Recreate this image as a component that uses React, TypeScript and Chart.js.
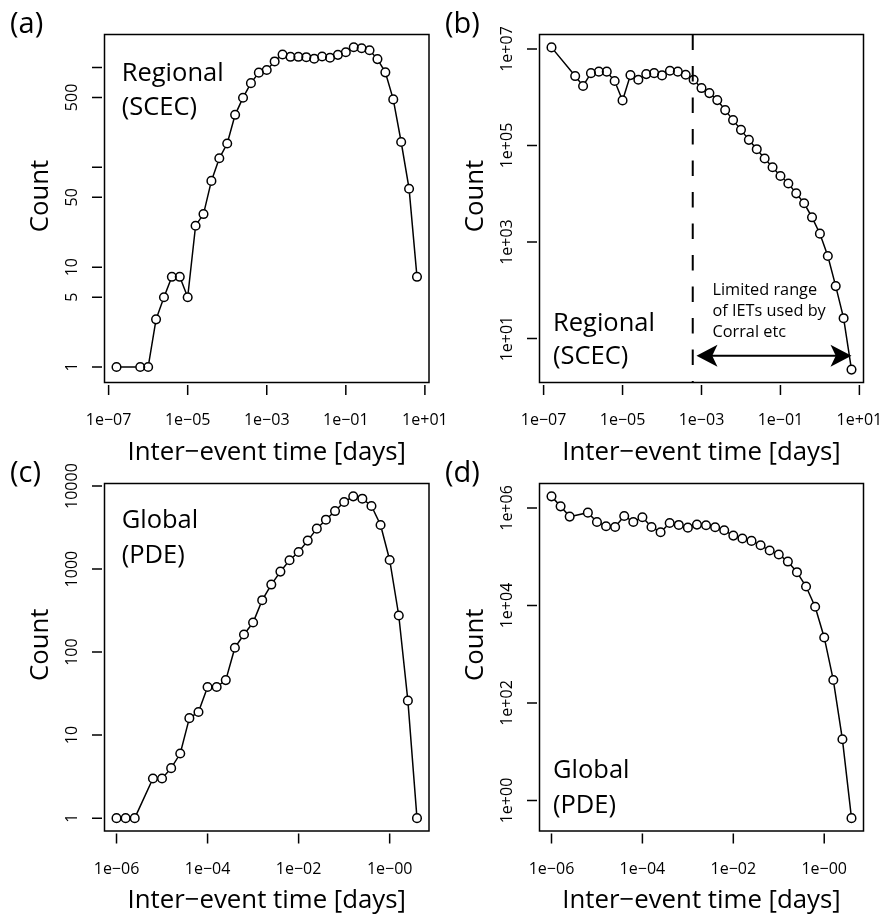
import React, { useEffect, useRef } from 'react';
import { Chart, registerables } from 'chart.js';

Chart.register(...registerables);

const FONT = '"Open Sans", Lato, sans-serif';

// ---------- data ----------
// bin centres of inter-event time [days]
const xRegional = [
  1.585e-7, 6.31e-7,
  1e-6, 1.585e-6, 2.512e-6, 3.981e-6, 6.31e-6,
  1e-5, 1.585e-5, 2.512e-5, 3.981e-5, 6.31e-5,
  1e-4, 1.585e-4, 2.512e-4, 3.981e-4, 6.31e-4,
  1e-3, 1.585e-3, 2.512e-3, 3.981e-3, 6.31e-3,
  1e-2, 1.585e-2, 2.512e-2, 3.981e-2, 6.31e-2,
  0.1, 0.1585, 0.2512, 0.3981, 0.631,
  1, 1.585, 2.512, 3.981, 6.31,
];
const xGlobal = [
  1e-6, 1.585e-6, 2.512e-6, 6.31e-6,
  1e-5, 1.585e-5, 2.512e-5, 3.981e-5, 6.31e-5,
  1e-4, 1.585e-4, 2.512e-4, 3.981e-4, 6.31e-4,
  1e-3, 1.585e-3, 2.512e-3, 3.981e-3, 6.31e-3,
  1e-2, 1.585e-2, 2.512e-2, 3.981e-2, 6.31e-2,
  0.1, 0.1585, 0.2512, 0.3981, 0.631,
  1, 1.585, 2.512, 3.981,
];

// (a) Regional (SCEC) counts
const countA = [
  1, 1, 1, 3, 5, 8, 8, 5, 26, 34,
  73, 123, 173, 335, 497, 695, 886, 942, 1147, 1345,
  1276, 1276, 1265, 1219, 1285, 1247, 1335, 1418, 1589, 1553,
  1485, 1210, 892, 478, 179, 61, 8,
];
// (b) Regional (SCEC) density
const countB = [
  1.08e7, 2.75e6, 1.71e6, 3.16e6, 3.39e6, 3.39e6, 2.17e6, 8.6e5, 2.88e6, 2.31e6,
  3.02e6, 3.16e6, 2.84e6, 3.55e6, 3.39e6, 2.93e6, 2.31e6, 1.55e6, 1.22e6, 8.73e5,
  5.42e5, 3.36e5, 2.11e5, 1.31e5, 8.39e4, 5.37e4, 3.55e4, 2.34e4, 1.63e4, 1.02e4,
  6350, 3250, 1490, 512, 122, 26.4, 2.27,
];
// (c) Global (PDE) counts
const countC = [
  1, 1, 1, 3, 3, 4, 6, 16, 19, 38,
  38, 46, 113, 163, 227, 422, 651, 933, 1277, 1607,
  2203, 3070, 3937, 5000, 6427, 7516, 7047, 5754, 3397, 1288,
  276, 26, 1,
];
// (d) Global (PDE) density
const countD = [
  1.73e6, 1.08e6, 6.65e5, 8.02e5, 5.16e5, 4.22e5, 4.08e5, 6.85e5, 5.16e5, 6.44e5,
  4.08e5, 3.18e5, 4.93e5, 4.49e5, 3.95e5, 4.56e5, 4.42e5, 4.02e5, 3.49e5, 2.71e5,
  2.36e5, 2.11e5, 1.72e5, 1.34e5, 1.11e5, 7.96e4, 4.82e4, 2.45e4, 9400, 2210,
  296, 18, 0.435,
];

// ticks
const xTicksRegional = [1e-7, 1e-5, 1e-3, 1e-1, 1e1];
const xTickLabelsRegional = ['1e\u221207', '1e\u221205', '1e\u221203', '1e\u221201', '1e+01'];
const xTicksGlobal = [1e-6, 1e-4, 1e-2, 1];
const xTickLabelsGlobal = ['1e\u221206', '1e\u221204', '1e\u221202', '1e\u221200'];
const yTicksA = [1, 5, 10, 50, 100, 500, 1000];
const yTickLabelsA = ['1', '5', '10', '50', '', '500', ''];
const yTicksB = [10, 1e3, 1e5, 1e7];
const yTickLabelsB = ['1e+01', '1e+03', '1e+05', '1e+07'];
const yTicksC = [1, 10, 100, 1000, 10000];
const yTickLabelsC = ['1', '10', '100', '1000', '10000'];
const yTicksD = [1, 100, 1e4, 1e6];
const yTickLabelsD = ['1e+00', '1e+02', '1e+04', '1e+06'];

// annotation in (b)
const limitLine = 6e-4;
const arrowFrom = 7.46e-4;
const arrowTo = 6.31;
const arrowLevel = 4.4;
const noteX = 1.9e-3;
const noteLines = ['Limited range', 'of IETs used by', 'Corral etc'];

const xTitle = 'Inter\u2212event time [days]';
const yTitle = 'Count';

type Box = { l: number; t: number; r: number; b: number };
type PanelCfg = {
  xs: number[];
  ys: number[];
  xTicks: number[];
  xLabels: string[];
  yTicks: number[];
  yLabels: string[];
  letter: string;
  inner: string[];
  innerAtTop: boolean;
  innerOffsets: number[];
  box: Box;
  note?: boolean;
};

const W = 884;
const H = 916;

function rRange(vals: number[]) {
  const lv = vals.map((v) => Math.log10(v));
  const lo = Math.min(...lv);
  const hi = Math.max(...lv);
  const pad = 0.04 * (hi - lo);
  return { min: Math.pow(10, lo - pad), max: Math.pow(10, hi + pad) };
}

function makeDecor(p: PanelCfg) {
  return {
    id: 'rdecor',
    afterDraw(chart: any) {
      const ctx: CanvasRenderingContext2D = chart.ctx;
      const a = chart.chartArea;
      const xs = chart.scales.x;
      const ys = chart.scales.y;
      ctx.save();
      ctx.strokeStyle = '#000';
      ctx.fillStyle = '#000';

      // annotation (b)
      if (p.note) {
        const lx = xs.getPixelForValue(limitLine);
        ctx.lineWidth = 2;
        ctx.setLineDash([15.5, 16]);
        ctx.beginPath();
        ctx.moveTo(lx, a.top);
        ctx.lineTo(lx, a.bottom);
        ctx.stroke();
        ctx.setLineDash([]);
        const ay = ys.getPixelForValue(arrowLevel);
        const x0 = xs.getPixelForValue(arrowFrom);
        const x1 = xs.getPixelForValue(arrowTo);
        const hl = 21;
        const hw = 11;
        ctx.lineWidth = 2;
        ctx.beginPath();
        ctx.moveTo(x0 + hl * 0.7, ay);
        ctx.lineTo(x1 - hl * 0.7, ay);
        ctx.stroke();
        const head = (tx: number, dir: number) => {
          ctx.beginPath();
          ctx.moveTo(tx, ay);
          ctx.lineTo(tx + dir * hl, ay - hw);
          ctx.lineTo(tx + dir * hl * 0.75, ay);
          ctx.lineTo(tx + dir * hl, ay + hw);
          ctx.closePath();
          ctx.fill();
        };
        head(x0, 1);
        head(x1, -1);
        ctx.font = `16.3px ${FONT}`;
        ctx.textAlign = 'left';
        ctx.textBaseline = 'alphabetic';
        const nx = xs.getPixelForValue(noteX);
        noteLines.forEach((s, i) => ctx.fillText(s, nx, ay - 61 + i * 21.3));
      }

      // box
      ctx.lineWidth = 1.5;
      ctx.strokeRect(a.left, a.top, a.right - a.left, a.bottom - a.top);

      // tick marks
      ctx.beginPath();
      p.xTicks.forEach((v) => {
        const px = xs.getPixelForValue(v);
        ctx.moveTo(px, a.bottom + 2.5);
        ctx.lineTo(px, a.bottom + 12.5);
      });
      p.yTicks.forEach((v) => {
        const py = ys.getPixelForValue(v);
        ctx.moveTo(a.left - 2.5, py);
        ctx.lineTo(a.left - 12.5, py);
      });
      ctx.stroke();

      // tick labels
      ctx.font = `16px ${FONT}`;
      ctx.textAlign = 'center';
      ctx.textBaseline = 'alphabetic';
      p.xTicks.forEach((v, i) => {
        ctx.fillText(p.xLabels[i], xs.getPixelForValue(v), a.bottom + 42.5);
      });
      p.yTicks.forEach((v, i) => {
        if (!p.yLabels[i]) return;
        ctx.save();
        ctx.translate(a.left - 27.6, ys.getPixelForValue(v));
        ctx.rotate(-Math.PI / 2);
        ctx.fillText(p.yLabels[i], 0, 0);
        ctx.restore();
      });

      // axis titles
      ctx.font = `25.8px ${FONT}`;
      ctx.fillText(xTitle, (a.left + a.right) / 2, a.bottom + 77);
      ctx.save();
      ctx.translate(a.left - 56.3, (a.top + a.bottom) / 2 - 12.5);
      ctx.rotate(-Math.PI / 2);
      ctx.fillText(yTitle, 0, 0);
      ctx.restore();

      // panel letter
      ctx.font = `29px ${FONT}`;
      ctx.textAlign = 'left';
      ctx.fillText(p.letter, a.left - 94.5, a.top - 1.5);

      // inner label
      ctx.font = `25.5px ${FONT}`;
      p.inner.forEach((s, i) => {
        const y = p.innerAtTop ? a.top + p.innerOffsets[i] : a.bottom - p.innerOffsets[i];
        ctx.fillText(s, a.left + (p.innerAtTop ? 17.2 : 13.5), y);
      });
      ctx.restore();
    },
  };
}

function Panel({ cfg }: { cfg: PanelCfg }) {
  const ref = useRef<HTMLCanvasElement | null>(null);
  useEffect(() => {
    if (!ref.current) return;
    const pts = cfg.xs.map((x, i) => ({ x, y: cfg.ys[i] }));
    const xr = rRange(cfg.xs);
    const yr = rRange(cfg.ys);
    const chart = new Chart(ref.current, {
      type: 'line',
      data: {
        datasets: [
          {
            data: pts,
            showLine: false,
            pointRadius: 4.3,
            pointBorderWidth: 1.5,
            pointBorderColor: '#000',
            pointBackgroundColor: 'rgba(0,0,0,0)',
            pointHoverRadius: 4.3,
          },
          {
            data: pts,
            borderColor: '#000',
            borderWidth: 1.5,
            tension: 0,
            pointRadius: 4.5,
            pointBorderWidth: 0,
            pointBorderColor: '#fff',
            pointBackgroundColor: '#fff',
          },
        ],
      },
      options: {
        animation: false,
        responsive: false,
        devicePixelRatio: 1,
        events: [],
        layout: {
          padding: { left: cfg.box.l, top: cfg.box.t, right: W - cfg.box.r, bottom: H - cfg.box.b },
        },
        scales: {
          x: { type: 'logarithmic', display: false, min: xr.min, max: xr.max },
          y: { type: 'logarithmic', display: false, min: yr.min, max: yr.max },
        },
        plugins: { legend: { display: false }, tooltip: { enabled: false } },
      } as any,
      plugins: [makeDecor(cfg)],
    });
    return () => chart.destroy();
  }, [cfg]);
  return (
    <canvas
      ref={ref}
      width={W}
      height={H}
      style={{ position: 'absolute', left: 0, top: 0, width: W, height: H }}
    />
  );
}

const panels: PanelCfg[] = [
  {
    xs: xRegional, ys: countA, xTicks: xTicksRegional, xLabels: xTickLabelsRegional,
    yTicks: yTicksA, yLabels: yTickLabelsA, letter: '(a)', inner: ['Regional', '(SCEC)'],
    innerAtTop: true, innerOffsets: [46.5, 80], box: { l: 104.5, t: 34.5, r: 429, b: 382.5 },
  },
  {
    xs: xRegional, ys: countB, xTicks: xTicksRegional, xLabels: xTickLabelsRegional,
    yTicks: yTicksB, yLabels: yTickLabelsB, letter: '(b)', inner: ['Regional', '(SCEC)'],
    innerAtTop: false, innerOffsets: [51.5, 18.5], box: { l: 539.5, t: 34.5, r: 863.5, b: 382.5 }, note: true,
  },
  {
    xs: xGlobal, ys: countC, xTicks: xTicksGlobal, xLabels: xTickLabelsGlobal,
    yTicks: yTicksC, yLabels: yTickLabelsC, letter: '(c)', inner: ['Global', '(PDE)'],
    innerAtTop: true, innerOffsets: [44, 79], box: { l: 104.5, t: 483.5, r: 429, b: 831 },
  },
  {
    xs: xGlobal, ys: countD, xTicks: xTicksGlobal, xLabels: xTickLabelsGlobal,
    yTicks: yTicksD, yLabels: yTickLabelsD, letter: '(d)', inner: ['Global', '(PDE)'],
    innerAtTop: false, innerOffsets: [52.7, 17.7], box: { l: 539.5, t: 483.5, r: 863.5, b: 831 },
  },
];

export default function App() {
  return (
    <div style={{ position: 'absolute', left: 0, top: 0, width: W, height: H, background: '#fff', overflow: 'hidden' }}>
      {panels.map((p, i) => (
        <Panel key={i} cfg={p} />
      ))}
    </div>
  );
}
